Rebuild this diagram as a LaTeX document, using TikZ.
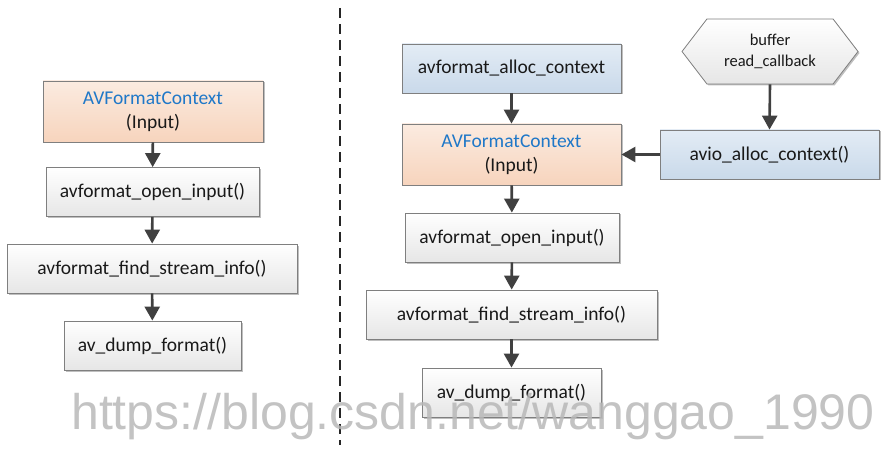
\documentclass[tikz,border=0pt]{standalone}
\usepackage{fontspec}
\setmainfont{Carlito}
\newfontfamily\markfont{Liberation Sans}
\usetikzlibrary{arrows.meta,shapes.symbols,shadows}

\definecolor{boxline}{HTML}{7F7F7F}
\definecolor{arrowgray}{HTML}{404040}
\definecolor{ctxblue}{HTML}{1F78C8}
\definecolor{peachtop}{HTML}{FBEBE0}
\definecolor{peachbot}{HTML}{F7D4BD}
\definecolor{bluetop}{HTML}{E3ECF5}
\definecolor{bluebot}{HTML}{C9D9EA}
\definecolor{plaintop}{HTML}{FFFFFF}
\definecolor{plainbot}{HTML}{E6E6E6}

\tikzset{
  fbox/.style={draw=boxline, line width=0.8pt, top color=plaintop, bottom color=plainbot,
    minimum height=49pt, inner sep=0pt, align=center, text=black!90,
    font=\fontsize{19.5}{24}\selectfont,
    drop shadow={shadow xshift=1.5pt, shadow yshift=-1.5pt, opacity=0.25, fill=black}},
  ctxbox/.style={fbox, top color=peachtop, bottom color=peachbot, minimum height=61pt},
  callbox/.style={fbox, top color=bluetop, bottom color=bluebot},
  hexbox/.style={fbox, shape=signal, signal to=west and east, signal pointer angle=105,
    minimum height=65pt, font=\fontsize{16.5}{21}\selectfont},
  flow/.style={-{Triangle[width=15pt,length=14pt]}, line width=2.6pt, draw=arrowgray},
}

\begin{document}
\begin{tikzpicture}[
      x = 1pt,
      y = -1pt,
  ]
  \useasboundingbox (0,0) rectangle (886,449);

  % left: plain input
  \node[ctxbox, minimum width=220pt] (lctx) at (153,111.5) {{\color{ctxblue}AVFormatContext}\\(Input)};
  \node[fbox, minimum width=213pt] (lopen) at (152.5,192) {avformat\_open\_input()};
  \node[fbox, minimum width=290pt] (lfind) at (152,268.5) {avformat\_find\_stream\_info()};
  \node[fbox, minimum width=177pt] (ldump) at (152.5,345.5) {av\_dump\_format()};

  \draw [flow] (lctx) -- (lopen);
  \draw [flow] (lopen) -- (lfind);
  \draw [flow] (lfind) -- (ldump);

  % separator
  \draw [dashed, dash pattern=on 10pt off 6pt, line width=1.4pt, black!85] (340,8) -- (340,445);

  % right: custom io
  \node[callbox, minimum width=219pt] (ralloc) at (511.5,68.5) {avformat\_alloc\_context};
  \node[ctxbox, minimum width=219pt] (rctx) at (511.5,154.5) {{\color{ctxblue}AVFormatContext}\\(Input)};
  \node[fbox, minimum width=214pt] (ropen) at (512,237.5) {avformat\_open\_input()};
  \node[fbox, minimum width=291pt] (rfind) at (511.5,314.5) {avformat\_find\_stream\_info()};
  \node[fbox, minimum width=179pt] (rdump) at (511.5,392.5) {av\_dump\_format()};

  \node[hexbox, minimum width=176pt] (buf) at (770,51.5) {buffer\\read\_callback};
  \node[callbox, minimum width=219pt] (avio) at (769.5,154.5) {avio\_alloc\_context()};

  \draw [flow] (ralloc) -- (rctx);
  \draw [flow] (rctx) -- (ropen);
  \draw [flow] (ropen) -- (rfind);
  \draw [flow] (rfind) -- (rdump);
  \draw [flow] (buf.south) -- (avio.north);
  \draw [flow] (avio.west) -- (rctx.east);

  % watermark
  \node[anchor=base west, inner sep=0pt, text=black!28, opacity=0.85,
        font=\markfont\fontsize{50}{50}\selectfont] (mark) at (71,429) {https://blog.csdn.net/wanggao\_1990};

\end{tikzpicture}
\end{document}
